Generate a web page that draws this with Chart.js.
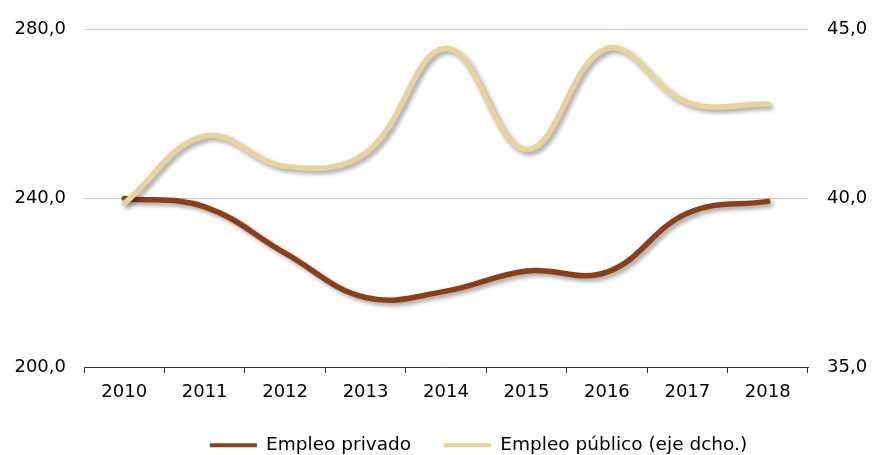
<!DOCTYPE html>
<html>
<head>
<meta charset="utf-8">
<script src="https://cdn.jsdelivr.net/npm/chart.js@4.4.1/dist/chart.umd.min.js"></script>
<style>
  html, body { margin: 0; padding: 0; background: #fff; }
  #wrap { width: 873px; height: 455px; }
</style>
</head>
<body>
<div id="wrap"><canvas id="empleoChart"></canvas></div>
<script>
const years = ["2010", "2011", "2012", "2013", "2014", "2015", "2016", "2017", "2018"];
const empleoPrivado = [240.0, 238.0, 227.0, 216.5, 218.0, 222.8, 222.5, 236.5, 239.3];
const empleoPublico = [39.85, 41.85, 40.95, 41.35, 44.45, 41.45, 44.45, 42.85, 42.8];
const leftTicks = [200, 240, 280];
const rightTicks = [35, 40, 45];

const FONT = "'DejaVu Sans', Verdana, sans-serif";

function fmt(v) {
  return Number(v).toFixed(1).replace(".", ",");
}

/* =========================
   SOMBRA DE LAS LÍNEAS
========================= */
const lineShadow = {
  id: "lineShadow",
  beforeDatasetDraw(chart) {
    const ctx = chart.ctx;
    ctx.save();
    ctx.shadowColor = "rgba(0, 0, 0, 0.35)";
    ctx.shadowBlur = 4;
    ctx.shadowOffsetX = 3;
    ctx.shadowOffsetY = 3;
  },
  afterDatasetDraw(chart) {
    chart.ctx.restore();
  }
};

// la leyenda del original no está centrada en el lienzo
const legendNudge = {
  id: "legendNudge",
  afterLayout(chart) {
    const lg = chart.legend;
    if (!lg) return;
    lg.left += 42;
    lg.right += 42;
  }
};

new Chart(document.getElementById("empleoChart"), {
  type: "line",
  data: {
    labels: years,
    datasets: [
      {
        label: "Empleo privado",
        data: empleoPrivado,
        yAxisID: "y",
        borderColor: "#8a4016",
        backgroundColor: "#8a4016",
        borderWidth: 5.5,
        borderCapStyle: "round",
        tension: 0.4,
        pointRadius: 0,
        order: 2
      },
      {
        label: "Empleo público (eje dcho.)",
        data: empleoPublico,
        yAxisID: "y1",
        borderColor: "#e9d29e",
        backgroundColor: "#e9d29e",
        borderWidth: 5.5,
        borderCapStyle: "round",
        tension: 0.4,
        pointRadius: 0,
        order: 1
      }
    ]
  },
  options: {
    responsive: true,
    maintainAspectRatio: false,
    animation: false,
    layout: {
      padding: { left: 0, right: 0, top: 27, bottom: 0 }
    },
    plugins: {
      tooltip: { enabled: false },
      legend: {
        position: "bottom",
        maxHeight: 52,
        labels: {
          usePointStyle: true,
          pointStyle: "line",
          pointStyleWidth: 47,
          padding: 33,
          color: "#000",
          font: { family: FONT, size: 18.5 },
          sort: (a, b) => a.datasetIndex - b.datasetIndex,
          generateLabels(chart) {
            const items = Chart.defaults.plugins.legend.labels.generateLabels(chart);
            items.forEach(it => { it.lineWidth = 4; });
            return items;
          }
        }
      }
    },
    scales: {
      x: {
        offset: true,
        afterFit: s => { s.height = 36; },
        grid: {
          offset: true,
          drawOnChartArea: false,
          drawTicks: true,
          tickLength: 6,
          color: "#333"
        },
        border: { display: true, color: "#333", width: 1 },
        ticks: {
          padding: 9,
          color: "#000",
          font: { family: FONT, size: 18 }
        }
      },
      y: {
        position: "left",
        min: 200,
        max: 280,
        afterBuildTicks: scale => {
          scale.ticks = leftTicks.map(v => ({ value: v }));
        },
        afterFit: s => { s.width = 84; },
        grid: {
          drawTicks: false,
          color: c => (c.tick && c.tick.value === 200 ? "rgba(0,0,0,0)" : "#c8c8c8")
        },
        border: { display: false },
        ticks: {
          padding: 18,
          color: "#000",
          font: { family: FONT, size: 18 },
          callback: v => fmt(v)
        }
      },
      y1: {
        position: "right",
        min: 35,
        max: 45,
        afterBuildTicks: scale => {
          scale.ticks = rightTicks.map(v => ({ value: v }));
        },
        afterFit: s => { s.width = 65; },
        grid: { drawOnChartArea: false, drawTicks: false },
        border: { display: false },
        ticks: {
          padding: 19,
          color: "#000",
          font: { family: FONT, size: 18 },
          callback: v => fmt(v)
        }
      }
    }
  },
  plugins: [lineShadow, legendNudge]
});
</script>
</body>
</html>
